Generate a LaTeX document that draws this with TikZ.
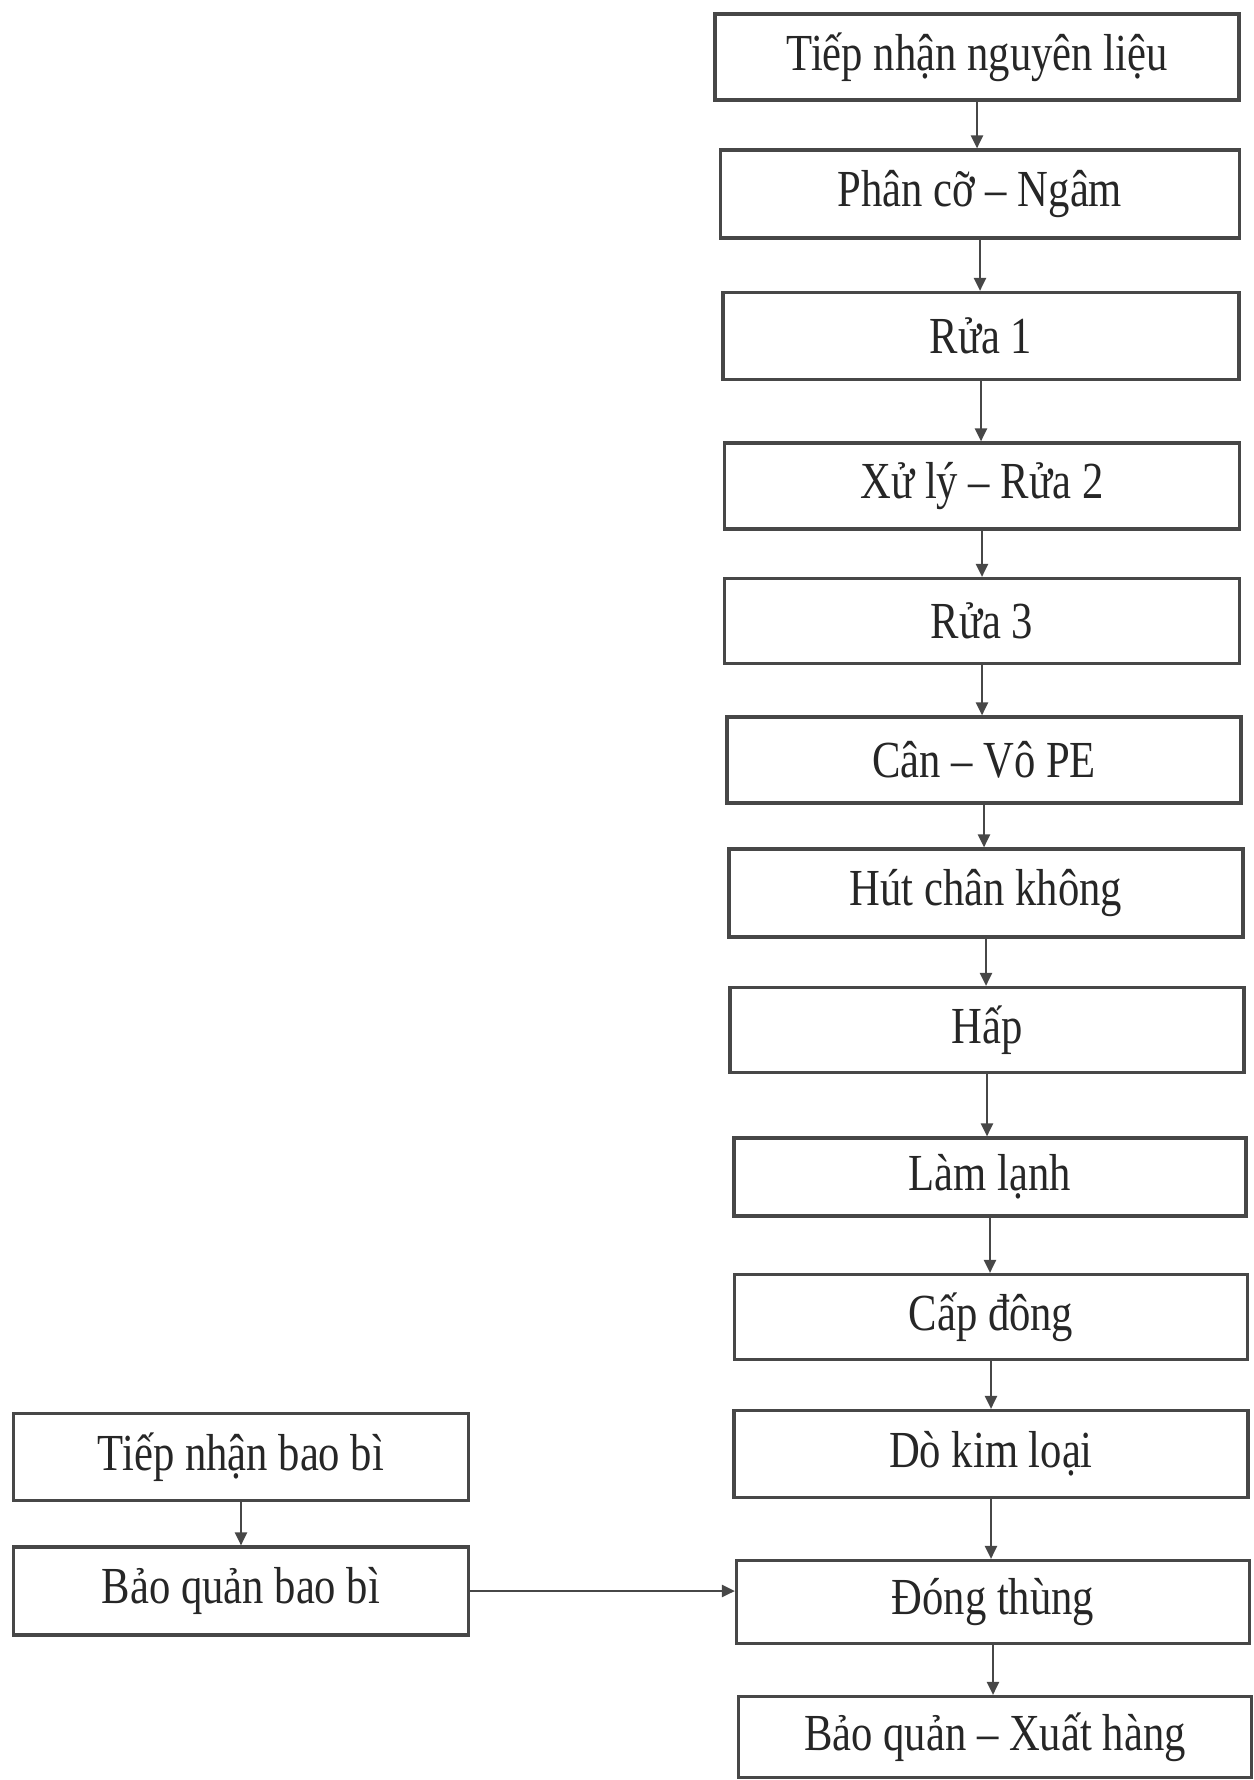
\documentclass[tikz,border=0pt]{standalone}
\usepackage{fontspec}
\setmainfont[FakeStretch=0.82]{Liberation Serif}
\usetikzlibrary{arrows.meta}
\begin{document}
\begin{tikzpicture}[x=1pt,y=-1pt,
  box/.style={draw=black!72, line width=3.2pt, inner sep=0pt, text=black!85,
    font=\fontsize{52}{58}\selectfont},
  arr/.style={line width=2.2pt, draw=black!72, -{Triangle[length=13pt,width=12pt]}}]
\useasboundingbox (0,0) rectangle (1253,1780);
\node[box, minimum width=524pt, minimum height=86pt] (b1) at (977,57) {Tiếp nhận nguyên liệu};
\node[box, minimum width=519pt, minimum height=88pt] (b2) at (980,194) {Phân cỡ – Ngâm};
\node[box, minimum width=516pt, minimum height=87pt] (b3) at (981,336) {Rửa 1};
\node[box, minimum width=515pt, minimum height=86pt] (b4) at (982,486) {Xử lý – Rửa 2};
\node[box, minimum width=515pt, minimum height=85pt] (b5) at (982,621) {Rửa 3};
\node[box, minimum width=514pt, minimum height=86pt] (b6) at (984,760) {Cân – Vô PE};
\node[box, minimum width=514pt, minimum height=88pt] (b7) at (986,893) {Hút chân không};
\node[box, minimum width=514pt, minimum height=85pt] (b8) at (987,1030) {Hấp};
\node[box, minimum width=512pt, minimum height=78pt] (b9) at (990,1177) {Làm lạnh};
\node[box, minimum width=513pt, minimum height=85pt] (b10) at (991,1317) {Cấp đông};
\node[box, minimum width=514pt, minimum height=87pt] (b11) at (991,1454) {Dò kim loại};
\node[box, minimum width=513pt, minimum height=83pt] (b12) at (993,1602) {Đóng thùng};
\node[box, minimum width=513pt, minimum height=81pt] (b13) at (995,1737) {Bảo quản – Xuất hàng};
\node[box, minimum width=455pt, minimum height=87pt] (l1) at (241,1457) {Tiếp nhận bao bì};
\node[box, minimum width=455pt, minimum height=88pt] (l2) at (241,1591) {Bảo quản bao bì};
\foreach \a/\b in {b1/b2,b2/b3,b3/b4,b4/b5,b5/b6,b6/b7,b7/b8,b8/b9,b9/b10,b10/b11,b11/b12,b12/b13,l1/l2}
  \draw[arr] (\a.south) -- (\a.south |- \b.north);
\draw[arr] (l2.east) -- (l2.east -| b12.west);
\end{tikzpicture}
\end{document}
